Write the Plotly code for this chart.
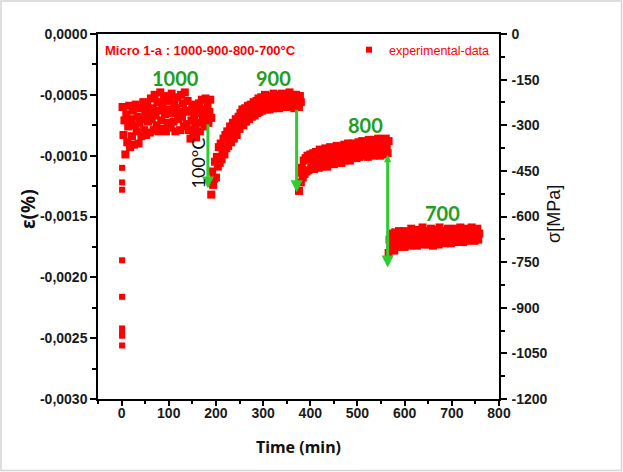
import plotly.graph_objects as go

# ---------------- data (strain in units of 1e-4 %) ----------------
SCALE = 1e-4
SAMPLE_MIN = 2  # logger sampling interval (min)

# initial scattered points at loading
t_init = [1, 1, 1, 1, 1, 1, 1, 1, 1]
eps_init = [-11.0, -12.2, -12.8, -18.6, -21.6, -24.2, -24.6, -24.8, -25.6]

# 1000 °C stage (t = 2 .. 190)
t_1000_start = 2
eps_1000 = [
    -6.0, -8.3, -7.1, -9.9, -6.6, -8.9, -7.6, -5.9, -9.3, -7.0,
    -8.4, -6.3, -9.1, -7.5, -5.8, -8.0, -6.8, -9.0, -7.3, -6.1,
    -8.4, -7.0, -5.6, -7.9, -6.4, -8.3, -5.9, -7.2, -6.6, -8.1,
    -5.3, -7.0, -6.1, -7.9, -5.0, -6.7, -7.5, -5.6, -8.0, -6.3,
    -4.8, -7.1, -6.0, -7.8, -5.4, -6.6, -8.0, -5.1, -7.3, -6.2,
    -5.5, -7.7, -4.9, -6.5, -7.2, -5.8, -8.0, -6.1, -5.2, -7.0,
    -6.4, -7.9, -5.0, -6.8, -5.7, -7.6, -4.8, -6.3, -7.4, -5.5,
    -7.9, -6.4, -8.6, -7.1, -5.8, -8.2, -6.7, -7.6, -8.5, -6.1,
    -7.3, -5.7, -8.0, -6.5, -5.4, -7.1, -6.2, -7.6, -5.3, -6.8,
    -5.9, -7.3, -6.4, -5.4, -6.9,
]

# 900 °C stage (t = 190 .. 380)
t_900_start = 190
eps_900 = [
    -13.2, -11.3, -12.4, -11.9, -10.5, -11.8, -10.1, -10.9, -9.3, -10.6,
    -9.0, -10.3, -9.6, -8.6, -9.9, -8.3, -9.4, -8.0, -9.2, -8.6,
    -7.6, -8.9, -8.0, -7.3, -8.6, -7.7, -7.0, -8.3, -7.4, -6.8,
    -7.8, -6.5, -7.3, -6.2, -7.5, -6.8, -6.1, -7.2, -6.6, -5.9,
    -7.0, -6.3, -5.8, -6.8, -6.1, -5.6, -6.7, -6.0, -5.5, -6.5,
    -5.3, -6.4, -5.8, -5.2, -6.3, -5.6, -6.1, -5.0, -5.9, -6.2,
    -5.1, -5.8, -6.2, -5.3, -5.7, -6.1, -4.9, -5.6, -6.0, -5.2,
    -5.9, -5.0, -6.1, -5.4, -5.8, -4.9, -6.0, -5.3, -5.7, -5.1,
    -6.0, -5.2, -5.6, -4.8, -5.9, -5.3, -5.7, -5.0, -6.1, -5.4,
    -5.0, -5.8, -5.3, -6.0, -5.1, -5.6,
]

# 800 °C stage (t = 376 .. 566)
t_800_start = 376
eps_800 = [
    -12.9, -11.4, -12.2, -11.0, -11.8, -10.4, -11.5, -10.2, -11.3, -10.0,
    -11.2, -10.3, -9.9, -11.0, -10.6, -9.8, -11.1, -10.2, -9.7, -10.8,
    -10.0, -11.0, -9.5, -10.5, -10.9, -9.6, -10.2, -10.8, -9.4, -10.4,
    -10.9, -9.7, -10.3, -9.3, -10.6, -10.0, -9.4, -10.7, -9.8, -10.3,
    -9.2, -10.5, -9.8, -10.2, -9.3, -10.6, -9.6, -10.0, -9.1, -10.4,
    -9.5, -10.3, -9.0, -9.9, -10.4, -9.3, -9.8, -9.0, -10.2, -9.6,
    -9.1, -10.2, -9.6, -8.9, -10.1, -9.4, -9.9, -8.8, -9.7, -10.0,
    -9.0, -9.8, -9.3, -10.1, -8.7, -9.6, -9.9, -8.9, -9.4, -10.0,
    -8.7, -9.6, -9.1, -9.9, -8.6, -9.4, -10.0, -9.0, -8.7, -9.7,
    -9.0, -9.9, -8.6, -9.4, -9.8, -8.8,
]

# 700 °C stage (t = 566 .. 758)
t_700_start = 566
eps_700 = [
    -18.0, -16.9, -17.6, -16.4, -17.3, -16.7, -17.8, -16.3, -17.1, -16.8,
    -17.5, -16.2, -16.9, -17.4, -16.5, -17.0, -16.2, -17.5, -16.7, -17.2,
    -16.3, -17.1, -16.6, -17.4, -16.0, -16.9, -17.3, -16.5, -17.0, -16.2,
    -17.4, -16.7, -16.1, -17.2, -16.6, -17.0, -15.9, -16.8, -17.3, -16.4,
    -16.9, -17.3, -16.2, -16.7, -17.1, -16.0, -16.8, -17.4, -16.3, -16.9,
    -16.1, -17.0, -16.6, -17.3, -15.9, -16.8, -16.4, -17.1, -16.2, -16.9,
    -17.2, -16.3, -16.7, -16.0, -17.0, -16.5, -17.2, -16.1, -16.8, -16.4,
    -16.9, -16.0, -17.1, -16.6, -16.2, -17.0, -15.9, -16.7, -16.4, -17.1,
    -16.3, -16.8, -16.0, -17.0, -16.5, -16.1, -16.9, -16.4, -15.9, -16.8,
    -16.5, -17.0, -16.2, -16.7, -16.0, -16.9, -16.4,
]

# temperature-step labels (°C) and their positions (t, strain e-4)
stage_labels = ["1000", "900", "800", "700"]
stage_label_t = [115, 323, 518, 680]
stage_label_eps = [-3.6, -3.6, -7.5, -14.7]

# temperature drop arrows: (t, from strain, to strain) e-4
arrow_t = [183, 371, 564]
arrow_from = [-7.3, -6.1, -9.8]
arrow_to = [-12.7, -13.0, -19.2]
arrow_sides = ["end", "end", "end+start"]

# axis ticks
x_ticks = [0, 100, 200, 300, 400, 500, 600, 700, 800]
x_ticktext = ["0", "100", "200", "300", "400", "500", "600", "700", "800"]
eps_ticks = [0, -0.0005, -0.0010, -0.0015, -0.0020, -0.0025, -0.0030]
eps_ticktext = ["0,0000", "-0,0005", "-0,0010", "-0,0015", "-0,0020", "-0,0025", "-0,0030"]
sig_ticks = [0, -150, -300, -450, -600, -750, -900, -1050, -1200]
sig_ticktext = ["0", "-150", "-300", "-450", "-600", "-750", "-900", "-1050", "-1200"]

# ---------------- assemble series ----------------
def stage(t0, vals):
    return [t0 + SAMPLE_MIN * i for i in range(len(vals))], [v * SCALE for v in vals]

times, strain = [], []
for t0, vals in [(t_1000_start, eps_1000), (t_900_start, eps_900),
                 (t_800_start, eps_800), (t_700_start, eps_700)]:
    tt, ee = stage(t0, vals)
    times += tt
    strain += ee
strain_init = [v * SCALE for v in eps_init]

NARROW = "Liberation Sans Narrow, Arial Narrow, Liberation Sans, sans-serif"
RED = "#ff0000"
GREEN_TXT = "#1f9e1f"
GREEN_ARR = "#2ecc2e"

fig = go.Figure()
# isolated loading points (carry the legend entry)
fig.add_trace(go.Scatter(
    x=t_init, y=strain_init, mode="markers", name="experimental-data",
    legendgroup="exp",
    marker=dict(symbol="square", size=6, color=RED, opacity=1, line=dict(width=0)),
))
# dense creep records of the same experiment
fig.add_trace(go.Scatter(
    x=times, y=strain, mode="markers", name="experimental-data",
    legendgroup="exp", showlegend=False,
    marker=dict(symbol="square", size=8, color=RED, opacity=1, line=dict(width=0)),
))
# invisible trace to attach the stress axis and the tick-mark axis
fig.add_trace(go.Scatter(x=[None], y=[None], xaxis="x2", yaxis="y2", showlegend=False,
                         mode="markers", hoverinfo="skip"))

tickfont = dict(family=NARROW, size=14, color="#1a1a1a", weight="bold")

fig.update_layout(
    width=623, height=472,
    margin=dict(l=98, r=124, t=34, b=73),
    paper_bgcolor="white", plot_bgcolor="white",
    showlegend=True,
    legend=dict(x=0.99, y=0.956, xanchor="right", yanchor="middle",
                bgcolor="rgba(0,0,0,0)", font=dict(family=NARROW, size=12.5, color=RED),
                itemwidth=30, tracegroupgap=0),
    # labelled time axis (no tick marks, labels sit close to the axis line)
    xaxis=dict(range=[-50, 800], tickvals=x_ticks, ticktext=x_ticktext,
               showgrid=False, zeroline=False, showline=True, linecolor="black",
               linewidth=1.5, mirror=True, ticks="", tickfont=tickfont),
    # companion axis carrying the major/minor tick marks
    xaxis2=dict(range=[-50, 800], overlaying="x", anchor="y", side="bottom",
                tickvals=x_ticks, showticklabels=False, showgrid=False, zeroline=False,
                showline=False, ticks="outside", ticklen=6, tickwidth=1.5,
                tickcolor="black",
                minor=dict(ticks="outside", ticklen=4, tickwidth=1.5, tickcolor="black",
                           tick0=-50, dtick=50)),
    yaxis=dict(range=[-0.003, 0], tickvals=eps_ticks, ticktext=eps_ticktext,
               showgrid=False, zeroline=False, showline=True, linecolor="black",
               linewidth=1.5, ticks="outside", ticklen=6, tickwidth=1.5,
               tickcolor="black", tickfont=tickfont,
               minor=dict(ticks="outside", ticklen=4, tickwidth=1.5, tickcolor="black",
                          tick0=0, dtick=0.00025)),
    yaxis2=dict(range=[-1200, 0], overlaying="y", side="right", anchor="x",
                tickvals=sig_ticks, ticktext=sig_ticktext,
                showgrid=False, zeroline=False, showline=True, linecolor="black",
                linewidth=1.5, ticks="outside", ticklen=6, tickwidth=1.5,
                tickcolor="black", tickfont=tickfont, ticklabelstandoff=2,
                minor=dict(ticks="outside", ticklen=4, tickwidth=1.5, tickcolor="black",
                           tick0=0, dtick=75)),
)

ann = []
for lab, tx, ey in zip(stage_labels, stage_label_t, stage_label_eps):
    ann.append(dict(x=tx, y=ey * SCALE, xref="x", yref="y", text=lab, showarrow=False,
                    xanchor="center", yanchor="middle",
                    font=dict(family="Lato, Open Sans, sans-serif", size=20,
                              color=GREEN_TXT, weight="bold")))
for tx, e0, e1, side in zip(arrow_t, arrow_from, arrow_to, arrow_sides):
    ann.append(dict(x=tx, y=e1 * SCALE, ax=tx, ay=e0 * SCALE, xref="x", yref="y",
                    axref="x", ayref="y", text="", showarrow=True, arrowhead=2,
                    arrowside=side, startarrowhead=2, startarrowsize=0.5,
                    arrowsize=0.8, arrowwidth=3, arrowcolor=GREEN_ARR, standoff=0))
ann.append(dict(x=161, y=-10.6 * SCALE, xref="x", yref="y", text="100°C", textangle=-90,
                xanchor="center", yanchor="middle", showarrow=False,
                font=dict(family="Lato, Open Sans, sans-serif", size=18, color="#111111")))
ann.append(dict(x=0.0125, y=0.956, xref="paper", yref="paper", xanchor="left",
                yanchor="middle", text="Micro 1-a : 1000-900-800-700°C", showarrow=False,
                font=dict(family=NARROW, size=13, color=RED, weight="bold")))
ann.append(dict(x=0.4988, y=-0.1315, xref="paper", yref="paper", text="Time (min)",
                xanchor="center", yanchor="middle", showarrow=False,
                font=dict(family="Noto Sans, sans-serif", size=16,
                          color="#111111", weight="bold")))
ann.append(dict(x=-0.1746, y=0.5205, xref="paper", yref="paper", text="ε(%)",
                xanchor="center", yanchor="middle", textangle=-90, showarrow=False,
                font=dict(family="Noto Sans, sans-serif", size=19, color="#111111",
                          weight="bold")))
ann.append(dict(x=1.137, y=0.507, xref="paper", yref="paper", text="σ[MPa]",
                xanchor="center", yanchor="middle", textangle=-90, showarrow=False,
                font=dict(family="Liberation Sans, Arial, sans-serif", size=18,
                          color="#111111")))
fig.update_layout(annotations=ann)

fig.add_shape(type="rect", xref="paper", yref="paper",
              x0=-0.2419, x1=1.3055, y0=-0.1959, y1=1.0904,
              line=dict(color="#d4d4d4", width=1.5), layer="below")

fig.write_html("out.html", config={"displayModeBar": False},
               post_script="document.body.style.margin='0px';")
